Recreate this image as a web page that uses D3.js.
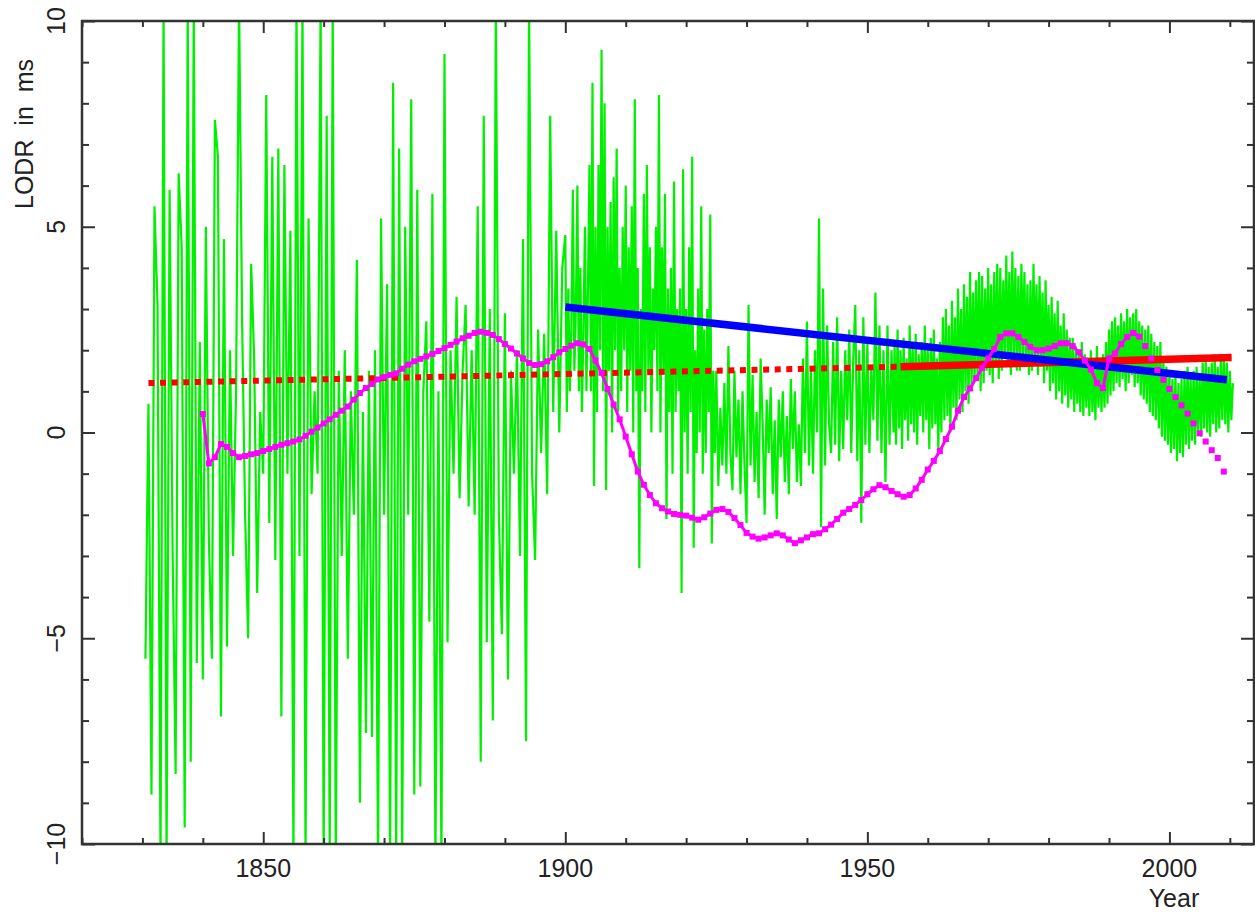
<!DOCTYPE html>
<html><head><meta charset="utf-8">
<script src="https://cdn.jsdelivr.net/npm/d3@7"></script>
<style>
body{margin:0;background:#fff;}
svg{display:block;}
text{font-family:"Liberation Sans", Arial, Helvetica, sans-serif;fill:#222;}
</style>
</head><body>
<svg id="chart" width="1255" height="913"></svg>
<script>
// ---------- data ----------
const xDomain = [1820, 2014];
const yDomain = [-10, 10];
const xMajorTicks = [1850, 1900, 1950, 2000];
const xMinorTicks = [1820,1830,1840,1860,1870,1880,1890,1910,1920,1930,1940,1960,1970,1980,1990,2010];
const yMajorTicks = [-10, -5, 0, 5, 10];
const yTickLabels = ["\u221210", "\u22125", "0", "5", "10"];
const yMinorTicks = [-9,-8,-7,-6,-4,-3,-2,-1,1,2,3,4,6,7,8,9];
const xLabel = "Year";
const yLabel = "LODR  in  ms";

// green: LODR (ms), pieces with regular spacing
const greenEarlyStart = 1830.5, greenEarlyStep = 0.5;
const greenEarly = [
 -5.5, 0.7, -8.8, 5.5, 3.1, -10.5, 10.5, -10.5, 5.9, -2.9,
 -8.3, 6.3, 4.5, -9.6, 10.5, -8.0, 10.5, -5.6, 2.2, -6.0,
 5.0, -2.6, -5.5, 7.6, 6.7, -6.9, 4.7, -5.2, 2.0, -3,
 1, 10.5, 2.7, -2, -5.0, 4.1, 1.8, -3.9, 0.5, -1,
 8.2, -2.2, 6.7, -3.1, 6.9, -6.9, 6.5, -1, 4.9, -10.5,
 10.5, -3, 10.5, -10.5, 5.2, -1.5, 1, -1, 10.5, -10.5,
 7.7, -10.5, 10.5, -10.5, 1.5, -3, 2, -5.5, 1, -2,
 4.2, -9.0, 0.5, -7.3, 1.5, -7.4, 2.0, -10.5, 5.2, -2,
 3.6, -10.5, 8.5, -10.5, 6.9, -10.5, 5.0, -2, 8.1, -8.8,
 5.9, -8.6, 1, 2.7, -4.6, 5.8, -10.5, 1, -10.5, 9.2,
 -5.1, 2.0, -1, 3.3, -1.6, 1.5, 3.1, -1.8, 2, -2,
 5.5, -8.0, 7.7, -5.1, 3, -7, 10.5, -2, -4.9, 2.9,
 -6, 1.5, -1, 2, -3.0, 4.7, -7.5, 10.5, -1, -3.1,
 2.5, -0.5, 2.4, -1.5, 7.7, 0.5, 4.9, 0, 4.0
];
const greenMid1Start = 1900, greenMid1Step = 0.25;
const greenMid1 = [
 4.8, 0.5, 3.5, 1.0,   2.5, 5.9, 1.5, 3.0,   6.0, 1.0, 4.0, 0.5,   2.5, 5.0, 1.0, 3.5,
 6.5, 1.0, 8.5, -1.3,  5.0, 0.5, 6.5, 2.0,   9.3, 1.0, 8.0, -1.4,  5.0, 1.5, 5.6, 0.0,
 6.2, 2.0, 6.9, 0.5,   4.0, 1.0, 5.0, 2.0,   6.0, 0.5, 4.5, 1.5,   5.5, 0.0, 8.1, 1.0,
 4.0, -3.3, 3.0, 1.0,  5.8, 0.5, 6.5, 1.5,   4.5, 0.0, 3.5, 2.0,   5.0, 1.0, 8.2, 0.0,
 4.5, 1.5, 5.8, -2.1,  3.5, 0.5, 4.0, -1.0,  6.1, 0.5, 3.0, 1.0,   3.5, -3.9, 6.4, 0.0,
 3.0, -1.0, 4.5, 0.5,  6.7, -2.8, 2.0, -0.5, 3.5, 0.0, 5.5, -1.0,  2.5, -0.5, 3.0, 0.5,
 5.3, -2.7, 1.5, -0.5
];
const greenMid2Start = 1925, greenMid2Step = 1 / 3;
const greenMid2 = [
 1.5, -1.3, 0.6,   -0.8, 1.2, -1.0,   2.1, -0.5, -1.4,   1.5, -0.6, 0.8,
 -1.5, 1.0, -0.8,  -2.2, 3.1, -0.8,   1.4, -1.2, 0.5,    -1.6, 1.8, 0.2,
 -2.0, 0.8, -0.5,  1.1, -1.5, 0.3,    -2.1, 0.8, -0.6,   1.0, -1.2, 0.4,
 -1.5, 1.3, -0.4,  1.0, -1.2, 0.2,    -1.3, 1.8, -0.5,   2.7, -0.8, 1.5,
 -1.0, 2.0, 0.0,   5.2, -2.3, 3.5,    -0.8, 2.6, 0.2,    -0.5, 2.2, -0.3,
 2.8, -0.7, 1.5,   -0.4, 2.0, 0.3,    2.5, -0.5, 1.8,    3.1, -0.7, 2.0,
 -2.2, 2.8, -0.3,  2.2, -0.5, 1.6,    0.3, 3.4, -0.2,    2.6, -0.5, 2.0,
 -1.2, 2.6, -0.3,  2.0, 0.0
];
const greenLateStart = 1954.5, greenLateStep = 0.25;
const greenLate = [
 2.2, -0.3,
 2.5, 0.1, 2.0, -0.4,   2.3, 0.3, 1.8, -0.2,   2.6, 0.2, 2.1, 0.0,   2.4, -0.3, 1.9, 0.4,
 2.2, 0.0, 2.6, 0.3,    2.0, -0.4, 2.3, 0.1,   2.5, 0.2, 1.8, -0.5,  2.2, 0.0, 2.8, 0.3,
 3.0, 0.4, 2.6, 0.0,    3.2, 0.6, 2.8, 0.3,    3.5, 0.8, 3.0, 0.5,   3.6, 1.0, 3.3, 0.7,
 3.9, 1.1, 3.4, 1.3,    3.7, 1.3, 3.9, 1.0,    3.8, 1.2, 3.5, 1.5,   4.0, 1.4, 3.6, 1.2,
 3.9, 1.6, 4.1, 1.3,    4.0, 1.5, 3.7, 1.8,    4.3, 1.6, 3.9, 1.4,   4.4, 1.7, 4.0, 1.5,
 3.8, 1.5, 4.1, 1.8,    3.9, 1.6, 3.6, 1.4,    3.7, 1.5, 4.1, 1.7,   3.6, 1.4, 3.8, 1.6,
 3.4, 1.2, 3.7, 1.5,    3.1, 1.0, 3.3, 1.2,    2.9, 0.8, 3.2, 1.0,   2.6, 0.7, 2.9, 0.9,
 2.5, 0.6, 2.3, 0.8,    2.3, 0.5, 2.1, 0.7,    2.0, 0.5, 2.2, 0.4,   1.9, 0.6, 1.8, 0.4,
 2.0, 0.5, 1.7, 0.3,    2.1, 0.6, 1.8, 0.5,    1.9, 0.6, 2.2, 0.7,   2.5, 0.9, 2.7, 1.0,
 2.8, 1.2, 2.6, 1.1,    2.9, 1.3, 2.7, 1.0,    3.0, 1.2, 2.8, 1.4,   2.9, 1.1, 3.0, 1.2,
 2.7, 0.9, 2.6, 0.8,    2.5, 0.7, 2.6, 0.5,    2.4, 0.4, 2.2, 0.3,   2.1, 0.1, 2.2, -0.1,
 1.8, -0.2, 1.6, -0.3,  1.5, -0.5, 1.3, -0.4,  1.4, -0.7, 1.2, -0.5, 1.3, -0.6, 1.5, -0.3,
 1.6, -0.4, 1.4, -0.2,  1.5, -0.3, 1.6, 0.0,   1.4, -0.1, 1.7, 0.1,  1.8, 0.0, 1.6, -0.1,
 1.7, 0.2, 1.9, 0.0,    1.6, 0.1, 1.8, 0.3,    1.9, 0.2, 1.7, 0.0,
 1.5, 0.3, 1.2
];

// magenta: smoothed LODR, one value per year
const magentaStart = 1840;
const magentaLineEnd = 1995;
const magenta = [
 0.45, -0.75, -0.6, -0.28, -0.35, -0.5, -0.6, -0.57, -0.53, -0.5,
 -0.45, -0.4, -0.35, -0.3, -0.26, -0.22, -0.17, -0.08, 0.02, 0.12,
 0.22, 0.32, 0.43, 0.53, 0.63, 0.8, 0.96, 1.08, 1.18, 1.29,
 1.35, 1.4, 1.44, 1.55, 1.65, 1.73, 1.79, 1.85, 1.91, 1.98,
 2.05, 2.13, 2.21, 2.29, 2.35, 2.42, 2.45, 2.42, 2.37, 2.27,
 2.15, 2.04, 1.92, 1.8, 1.69, 1.64, 1.66, 1.73, 1.83, 1.95,
 2.03, 2.11, 2.17, 2.14, 2.03, 1.75, 1.45, 1.06, 0.68, 0.32,
 -0.1, -0.53, -0.95, -1.27, -1.52, -1.72, -1.84, -1.92, -1.98, -2.0,
 -2.02, -2.07, -2.12, -2.06, -1.97, -1.88, -1.86, -1.93, -2.08, -2.25,
 -2.44, -2.53, -2.58, -2.55, -2.5, -2.45, -2.5, -2.6, -2.69, -2.62,
 -2.55, -2.47, -2.45, -2.35, -2.24, -2.1, -1.95, -1.86, -1.76, -1.64,
 -1.5, -1.38, -1.28, -1.33, -1.42, -1.5, -1.56, -1.52, -1.36, -1.15,
 -0.9, -0.69, -0.45, -0.16, 0.14, 0.53, 0.86, 1.07, 1.32, 1.57,
 1.8, 2.03, 2.32, 2.41, 2.41, 2.32, 2.2, 2.08, 2.0, 2.0,
 2.04, 2.1, 2.17, 2.17, 2.1, 1.95, 1.75, 1.53, 1.2, 1.08,
 1.8, 1.92, 2.15, 2.32, 2.42, 2.33, 2.1, 1.8, 1.52, 1.28,
 1.06, 0.86, 0.66, 0.46, 0.22, -0.02, -0.22, -0.43, -0.62, -0.95
];

// red trend (dotted part, then solid part)
const redDottedYears = [1831, 1955.5];
const redDottedVals = [1.2, 1.6];
const redSolidYears = [1955.5, 2010.3];
const redSolidVals = [1.6, 1.82];
// blue trend
const blueYears = [1900, 2009.5];
const blueVals = [3.05, 1.28];

// ---------- layout ----------
const L = 82, R = 1254, T = 21, B = 844;
const svg = d3.select("#chart");
const x = d3.scaleLinear().domain(xDomain).range([L, R]);
const y = d3.scaleLinear().domain(yDomain).range([B, T]);

svg.append("defs").append("clipPath").attr("id", "clip")
  .append("rect").attr("x", L).attr("y", T).attr("width", R - L).attr("height", B - T);

const plot = svg.append("g").attr("clip-path", "url(#clip)");

function series(start, step, vals) { return vals.map((v, i) => [start + i * step, v]); }
const greenPts = series(greenEarlyStart, greenEarlyStep, greenEarly)
  .concat(series(greenMid1Start, greenMid1Step, greenMid1))
  .concat(series(greenMid2Start, greenMid2Step, greenMid2))
  .concat(series(greenLateStart, greenLateStep, greenLate));

const line = d3.line().x(d => x(d[0])).y(d => y(d[1]));

plot.append("path").datum(greenPts).attr("d", line)
  .attr("fill", "none").attr("stroke", "#00f000").attr("stroke-width", 2.2)
  .attr("stroke-linejoin", "miter").attr("stroke-miterlimit", 2);

const zip = (a, b) => a.map((v, i) => [v, b[i]]);

plot.append("path").datum(zip(redDottedYears, redDottedVals)).attr("d", line)
  .attr("fill", "none").attr("stroke", "#ff0000").attr("stroke-width", 6)
  .attr("stroke-dasharray", "6 5.6");

plot.append("path").datum(zip(redSolidYears, redSolidVals)).attr("d", line)
  .attr("fill", "none").attr("stroke", "#ff0000").attr("stroke-width", 7.5);

plot.append("path").datum(zip(blueYears, blueVals)).attr("d", line)
  .attr("fill", "none").attr("stroke", "#0000ff").attr("stroke-width", 7.5);

const magPts = magenta.map((v, i) => [magentaStart + i, v]);
plot.append("path").datum(magPts.filter(d => d[0] <= magentaLineEnd)).attr("d", line)
  .attr("fill", "none").attr("stroke", "#ff00ff").attr("stroke-width", 3);
plot.selectAll("rect.mk").data(magPts).enter().append("rect").attr("class", "mk")
  .attr("x", d => x(d[0]) - 3).attr("y", d => y(d[1]) - 3)
  .attr("width", 6).attr("height", 6).attr("fill", "#ff00ff");

// ---------- axes / frame ----------
const axisColor = "#333";
function styleAxis(g) {
  g.select(".domain").remove();
  g.selectAll(".tick line").attr("stroke", axisColor).attr("stroke-width", 2);
  g.selectAll(".tick text").remove();
}
svg.append("g").attr("transform", `translate(0,${B})`)
  .call(d3.axisBottom(x).tickValues(xMajorTicks).tickSize(-12)).call(styleAxis);
svg.append("g").attr("transform", `translate(0,${B})`)
  .call(d3.axisBottom(x).tickValues(xMinorTicks).tickSize(-6)).call(styleAxis);
svg.append("g").attr("transform", `translate(0,${T})`)
  .call(d3.axisTop(x).tickValues(xMajorTicks).tickSize(-12)).call(styleAxis);
svg.append("g").attr("transform", `translate(0,${T})`)
  .call(d3.axisTop(x).tickValues(xMinorTicks).tickSize(-6)).call(styleAxis);
svg.append("g").attr("transform", `translate(${L},0)`)
  .call(d3.axisLeft(y).tickValues(yMajorTicks).tickSize(-13)).call(styleAxis);
svg.append("g").attr("transform", `translate(${L},0)`)
  .call(d3.axisLeft(y).tickValues(yMinorTicks).tickSize(-7)).call(styleAxis);
svg.append("g").attr("transform", `translate(${R},0)`)
  .call(d3.axisRight(y).tickValues(yMajorTicks).tickSize(-13)).call(styleAxis);
svg.append("g").attr("transform", `translate(${R},0)`)
  .call(d3.axisRight(y).tickValues(yMinorTicks).tickSize(-7)).call(styleAxis);

svg.append("rect").attr("x", L).attr("y", T).attr("width", R - L).attr("height", B - T)
  .attr("fill", "none").attr("stroke", axisColor).attr("stroke-width", 2.5);

// tick labels
svg.selectAll("text.xl").data(xMajorTicks).enter().append("text").attr("class", "xl")
  .attr("x", d => x(d)).attr("y", 877).attr("text-anchor", "middle")
  .attr("font-size", 25).text(d => d);
svg.selectAll("text.yl").data(yMajorTicks).enter().append("text").attr("class", "yl")
  .attr("transform", d => `translate(65,${y(d)}) rotate(-90)`)
  .attr("text-anchor", "middle").attr("font-size", 25)
  .text((d, i) => yTickLabels[i]);

svg.append("text").attr("x", 1174).attr("y", 907).attr("text-anchor", "middle")
  .attr("font-size", 25).text(xLabel);
svg.append("text").attr("transform", "translate(33,134) rotate(-90)")
  .attr("text-anchor", "middle").attr("font-size", 25)
  .style("white-space", "pre").text(yLabel);
</script>
</body></html>
